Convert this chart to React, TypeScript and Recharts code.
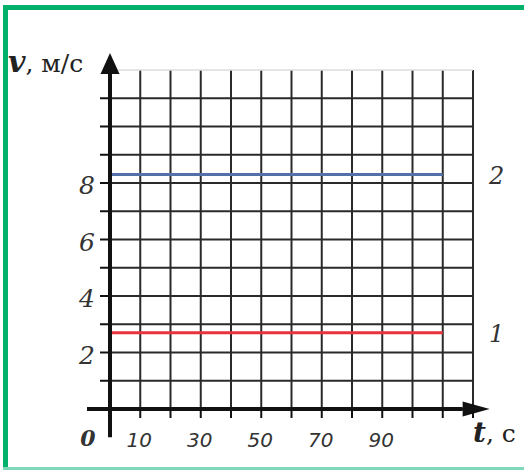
import { LineChart, Line, XAxis, YAxis, CartesianGrid, ReferenceLine, LabelList } from 'recharts';

// time, s
const TIMES = [0, 110];
// speed, m/s
const V1 = [2.7, 2.7];
const V2 = [8.3, 8.3];
const SERIES_NAMES = ['1', '2'];

const X_TICKS = [0, 10, 20, 30, 40, 50, 60, 70, 80, 90, 100, 110, 120];
const X_LABELS = [10, 30, 50, 70, 90];
const Y_TICKS = [0, 1, 2, 3, 4, 5, 6, 7, 8, 9, 10, 11];
const Y_LABELS = [2, 4, 6, 8];

const data = TIMES.map((t, i) => ({ t, v1: V1[i], v2: V2[i] }));

const SERIF = '"DejaVu Serif", "Liberation Serif", serif';
const GREEN = '#00b06b';

function XTick({ x, y, payload }: any) {
  const v = payload.value;
  if (v === 0) {
    return (
      <text x={x - 22} y={y + 26} textAnchor="middle" fontFamily={SERIF} fontStyle="italic" fontWeight="bold" fontSize={22} fill="#333">
        0
      </text>
    );
  }
  if (!X_LABELS.includes(v)) return null;
  return (
    <text x={x - 1} y={y + 27} textAnchor="middle" fontFamily='"DejaVu Sans", sans-serif' fontStyle="italic" fontSize={20} fill="#333">
      {v}
    </text>
  );
}

function YTick({ x, y, payload }: any) {
  if (!Y_LABELS.includes(payload.value)) return null;
  return (
    <text x={x - 3} y={y + 11} textAnchor="end" fontFamily={SERIF} fontStyle="italic" fontSize={25} fill="#333">
      {payload.value}
    </text>
  );
}

// axis line drawn from (x1,y1) to an arrowhead at (x2,y2)
function Arrow({ x1, y1, x2, y2, len, half }: any) {
  const horiz = Math.abs(y2 - y1) < 1;
  const bx = horiz ? x2 - len : x2;
  const by = horiz ? y2 : y2 + len;
  const pts = horiz
    ? `${x2},${y2} ${bx},${by - half} ${bx},${by + half}`
    : `${x2},${y2} ${bx - half},${by} ${bx + half},${by}`;
  return (
    <g>
      <line x1={x1} y1={y1} x2={bx} y2={by} stroke="#111" strokeWidth={4} />
      <polygon points={pts} fill="#111" />
    </g>
  );
}

function endLabel(name: string) {
  return (props: any) => {
    if (props.index !== TIMES.length - 1) return null;
    return (
      <text x={props.x + 54} y={props.y + 9} textAnchor="middle" fontFamily={SERIF} fontStyle="italic" fontSize={24} fill="#333">
        {name}
      </text>
    );
  };
}

export default function App() {
  return (
    <div style={{ position: 'relative', width: 524, height: 470, background: '#fff', overflow: 'hidden' }}>
      <style>{'body{margin:0}'}</style>
      <div style={{ position: 'absolute', left: 3, top: 5, width: 521, height: 5, background: GREEN }} />
      <div style={{ position: 'absolute', left: 3, top: 5, width: 5, height: 465, background: GREEN }} />
      <div style={{ position: 'absolute', left: 3, top: 467, width: 521, height: 3, background: '#7dd9b8' }} />
      <LineChart
        width={524}
        height={470}
        data={data}
        margin={{ top: 70, right: 51, left: 0, bottom: 0 }}
        style={{ position: 'absolute', left: 0, top: 0 }}
      >
        <CartesianGrid stroke="#2a2a2a" strokeWidth={2} horizontalValues={Y_TICKS} verticalValues={X_TICKS} />
        <XAxis
          dataKey="t"
          type="number"
          domain={[0, 120]}
          ticks={X_TICKS}
          height={61}
          axisLine={false}
          tickSize={9}
          tickLine={{ stroke: '#111', strokeWidth: 2 }}
          tick={<XTick />}
          interval={0}
        />
        <YAxis
          type="number"
          domain={[0, 12]}
          ticks={Y_TICKS}
          width={110}
          axisLine={false}
          tickSize={10}
          tickLine={{ stroke: '#111', strokeWidth: 2 }}
          tick={<YTick />}
          interval={0}
        />
        <ReferenceLine y={12} stroke="#ddd" strokeWidth={1.5} />
        <Line dataKey="v1" stroke="#e8323c" strokeWidth={3} dot={false} isAnimationActive={false}>
          <LabelList content={endLabel(SERIES_NAMES[0])} />
        </Line>
        <Line dataKey="v2" stroke="#5570a8" strokeWidth={3} dot={false} isAnimationActive={false}>
          <LabelList content={endLabel(SERIES_NAMES[1])} />
        </Line>
        <ReferenceLine
          segment={[{ x: -7.6, y: 0 }, { x: 125.5, y: 0 }]}
          ifOverflow="visible"
          shape={(p: any) => <Arrow {...p} len={27} half={7.5} />}
        />
        <ReferenceLine
          segment={[{ x: 0, y: -1 }, { x: 0, y: 12.6 }]}
          ifOverflow="visible"
          shape={(p: any) => <Arrow {...p} len={21} half={9.5} />}
        />
      </LineChart>
      <div style={{ position: 'absolute', left: 8, top: 44, fontFamily: SERIF, fontSize: 25, color: '#222', whiteSpace: 'nowrap' }}>
        <span style={{ fontStyle: 'italic', fontWeight: 'bold', fontSize: 30 }}>v</span>, м/с
      </div>
      <div style={{ position: 'absolute', left: 473, top: 416, fontFamily: SERIF, fontSize: 25, color: '#222', whiteSpace: 'nowrap' }}>
        <span style={{ fontStyle: 'italic', fontWeight: 'bold', fontSize: 28 }}>t</span>, с
      </div>
    </div>
  );
}
